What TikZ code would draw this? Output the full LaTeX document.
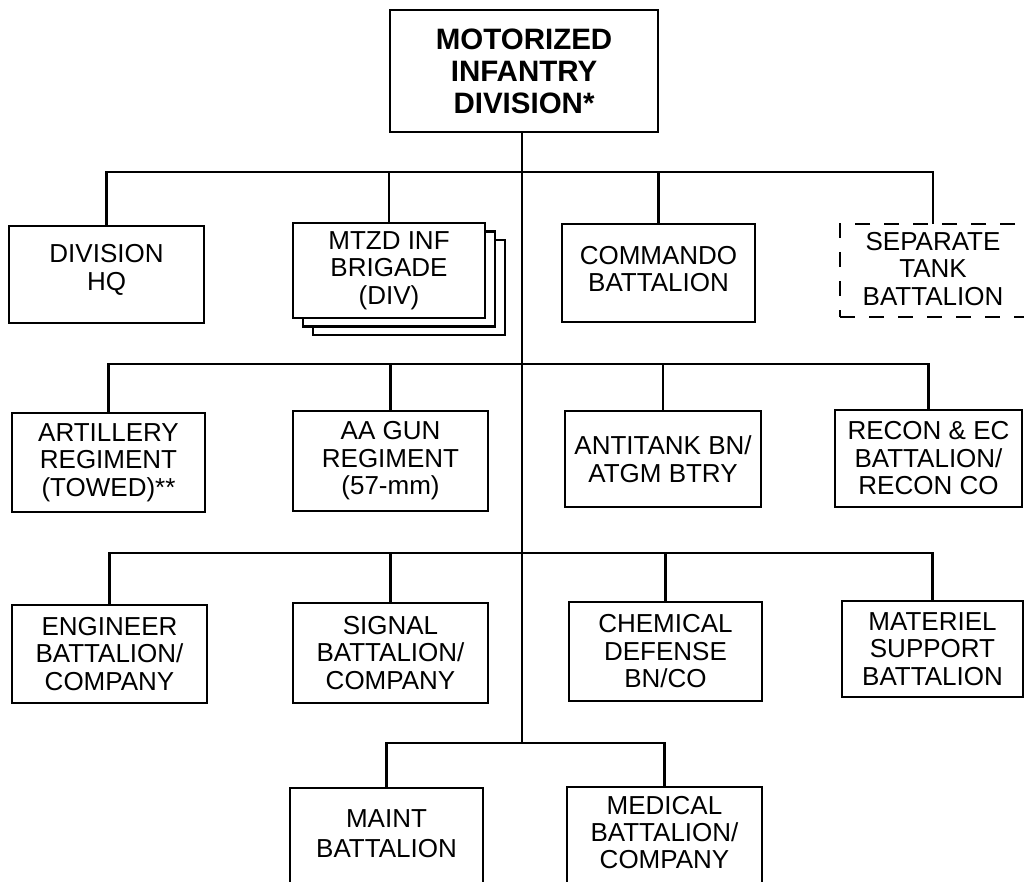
\documentclass[tikz,border=0pt]{standalone}
\usepackage{fontspec}
\setmainfont{Liberation Sans}
\begin{document}
\begin{tikzpicture}[x=1pt,y=-1pt,
  unit/.style={draw, line width=2.4pt, align=center, inner sep=0pt, fill=white,
    font=\fontsize{26}{27.5}\selectfont},
  txt/.style={align=center, inner sep=0pt, font=\fontsize{26}{27.5}\selectfont},
  ln/.style={line width=2.4pt, line cap=rect},
  dashbox/.style={unit, dash pattern=on 15pt off 14pt, line width=1.6pt}]
\useasboundingbox (0,0) rectangle (1024,882);
\fill[white] (0,0) rectangle (1024,882);
% top
\node[unit, minimum width=268pt, minimum height=122pt, font=\fontsize{29.5}{32}\selectfont\bfseries] (top) at (524,71) {MOTORIZED\\INFANTRY\\DIVISION*};
% bus coordinates
\coordinate (b1) at (522,172);
\coordinate (b2) at (522,364);
\coordinate (b3) at (522,553);
\coordinate (b4) at (522,743);
% row 1
\node[unit, minimum width=195pt, minimum height=97pt] (hq) at (106.5,274.5) {};
\node[txt] (hqT) at (106.5,270) {DIVISION\\HQ};
\node[unit, minimum width=192pt, minimum height=95pt] (brig3) at (409,287.5) {};
\node[unit, minimum width=192pt, minimum height=95pt] (brig2) at (399,279) {};
\node[unit, minimum width=192pt, minimum height=95pt] (brig) at (389,270.5) {MTZD INF\\BRIGADE\\(DIV)};
\node[unit, minimum width=193pt, minimum height=98pt] (cdo) at (658.5,273) {};
\node[txt] (cdoT) at (658.5,269) {COMMANDO\\BATTALION};
\node[dashbox, minimum width=186pt, minimum height=93pt] (tank) at (933,270.5) {};
\node[txt] (tankT) at (933,269) {SEPARATE\\TANK\\BATTALION};
% row 2
\node[unit, minimum width=193pt, minimum height=99pt] (art) at (108.5,462.5) {ARTILLERY\\REGIMENT\\(TOWED)**};
\node[unit, minimum width=195pt, minimum height=100pt] (aa) at (390.5,461) {AA GUN\\REGIMENT\\(57-mm)};
\node[unit, minimum width=196pt, minimum height=96pt] (at) at (663,459) {ANTITANK BN/\\ATGM BTRY};
\node[unit, minimum width=187pt, minimum height=97pt] (recon) at (928.5,458.5) {RECON \& EC\\BATTALION/\\RECON CO};
% row 3
\node[unit, minimum width=195pt, minimum height=98pt] (eng) at (109.5,654) {ENGINEER\\BATTALION/\\COMPANY};
\node[unit, minimum width=195pt, minimum height=100pt] (sig) at (390.5,653) {SIGNAL\\BATTALION/\\COMPANY};
\node[unit, minimum width=193pt, minimum height=99pt] (chem) at (665.5,651.5) {CHEMICAL\\DEFENSE\\BN/CO};
\node[unit, minimum width=181pt, minimum height=96pt] (mat) at (932.5,649) {MATERIEL\\SUPPORT\\BATTALION};
% row 4 (cut off at the bottom)
\node[unit, minimum width=193pt, minimum height=140pt] (maint) at (386.5,858) {};
\node[txt, font=\fontsize{26}{30}\selectfont] (maintT) at (386.5,834) {MAINT\\BATTALION};
\node[unit, minimum width=195pt, minimum height=140pt] (med) at (664.5,857) {};
\node[txt, font=\fontsize{26}{27}\selectfont] (medT) at (664.5,833) {MEDICAL\\BATTALION/\\COMPANY};
% connectors
\draw[ln] (top.south -| b1) -- (b4);
\draw[ln] (hq.north) |- (b1) -| (tank.north);
\draw[ln] (brig.north) |- (b1);
\draw[ln] (cdo.north) |- (b1);
\draw[ln] (art.north) |- (b2) -| (recon.north);
\draw[ln] (aa.north) |- (b2);
\draw[ln] (at.north) |- (b2);
\draw[ln] (eng.north) |- (b3) -| (mat.north);
\draw[ln] (sig.north) |- (b3);
\draw[ln] (chem.north) |- (b3);
\draw[ln] (maint.north) |- (b4) -| (med.north);
\end{tikzpicture}
\end{document}
